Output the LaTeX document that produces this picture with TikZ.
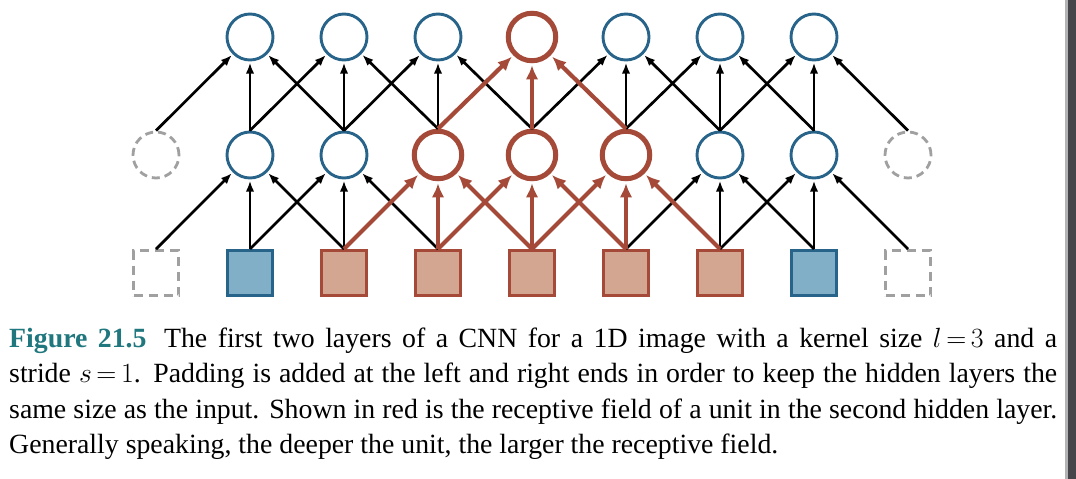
\RequirePackage{fix-cm}
\documentclass[tikz,border=0pt]{standalone}
\usepackage[no-math]{fontspec}
\setmainfont{Liberation Serif}
\usetikzlibrary{arrows.meta}
\definecolor{cblue}{RGB}{40,100,138}
\definecolor{cbluefill}{RGB}{130,175,200}
\definecolor{cred}{RGB}{165,74,56}
\definecolor{credfill}{RGB}{211,166,146}
\definecolor{cgray}{RGB}{160,160,160}
\definecolor{cteal}{RGB}{32,120,126}
\definecolor{cbar}{RGB}{70,70,74}
\begin{document}
\begin{tikzpicture}[x=1pt,y=-1pt,
  hid/.style={circle,draw=cblue,line width=2.9pt,minimum size=46pt,inner sep=0pt,fill=white},
  hidred/.style={circle,draw=cred,line width=5pt,minimum size=47.5pt,inner sep=0pt,fill=white},
  hidpad/.style={circle,draw=cgray,line width=2.8pt,dash pattern=on 8pt off 5pt,minimum size=46pt,inner sep=0pt,fill=white},
  inblue/.style={rectangle,draw=cblue,fill=cbluefill,line width=3pt,minimum size=45pt,inner sep=0pt},
  inred/.style={rectangle,draw=cred,fill=credfill,line width=3pt,minimum size=45pt,inner sep=0pt},
  inpad/.style={rectangle,draw=cgray,line width=2.8pt,dash pattern=on 9pt off 6pt,minimum size=45pt,inner sep=0pt,fill=white},
  blkedge/.style={draw=black,line width=2.7pt,shorten >=1.2pt,-{Latex[length=11pt,width=8.5pt]}},
  rededge/.style={draw=cred,line width=4.2pt,shorten >=2pt,-{Latex[length=14pt,width=12.5pt]}},
  caption/.style={anchor=base west,inner sep=0pt,text width=1048pt,align=justify,
    font=\fontsize{27.8}{35.5}\selectfont}
]
\useasboundingbox (0,0) rectangle (1076,479);
\fill[white] (0,0) rectangle (1076,479);
\fill[cgray!80] (1065,0) rectangle (1067.5,479);
\fill[cbar] (1067.5,0) rectangle (1076,479);

% top layer
\foreach \i in {1,2,3,5,6,7}{
  \node[hid] (t\i) at ({156+94*\i},37) {};
}
\node[hidred] (t4) at ({156+94*4},37) {};

% middle layer
\node[hidpad] (m0) at (156,155) {};
\node[hidpad] (m8) at ({156+94*8},155) {};
\foreach \i in {1,2,6,7}{
  \node[hid] (m\i) at ({156+94*\i},155) {};
}
\foreach \i in {3,4,5}{
  \node[hidred] (m\i) at ({156+94*\i},155) {};
}

% input layer
\node[inpad] (b0) at (156,273) {};
\node[inpad] (b8) at ({156+94*8},273) {};
\node[inblue] (b1) at ({156+94*1},273) {};
\node[inblue] (b7) at ({156+94*7},273) {};
\foreach \i in {2,...,6}{
  \node[inred] (b\i) at ({156+94*\i},273) {};
}

% black edges
\foreach \j in {0,...,8}{
  \foreach \d in {-1,0,1}{
    \pgfmathtruncatemacro{\k}{\j+\d}
    \ifnum\k>0\relax\ifnum\k<8\relax
      \ifnum\k=4\relax\else\draw[blkedge] (m\j.north) -- (t\k);\fi
      \ifnum\k<3\relax\draw[blkedge] (b\j.north) -- (m\k);\fi
      \ifnum\k>5\relax\draw[blkedge] (b\j.north) -- (m\k);\fi
    \fi\fi
  }
}
% red edges
\foreach \j in {0,...,8}{
  \foreach \d in {-1,0,1}{
    \pgfmathtruncatemacro{\k}{\j+\d}
    \ifnum\k=4\relax\draw[rededge] (m\j.north) -- (t\k);\fi
    \ifnum\k>2\relax\ifnum\k<6\relax\draw[rededge] (b\j.north) -- (m\k);\fi\fi
  }
}

\node[caption] (cap) at (9,347) {\hyphenpenalty=10000
{\color{cteal}\bfseries Figure 21.5}\hspace{0.25em} The first two layers of a CNN for a 1D image with a kernel size $l\,{=}\,3$ and a\linebreak
stride $s\,{=}\,1$. Padding is added at the left and right ends in order to keep the hidden layers the\linebreak
same size as the input. Shown in red is the receptive field of a unit in the second hidden layer.\linebreak
Generally speaking, the deeper the unit, the larger the receptive field.};
\end{tikzpicture}
\end{document}
